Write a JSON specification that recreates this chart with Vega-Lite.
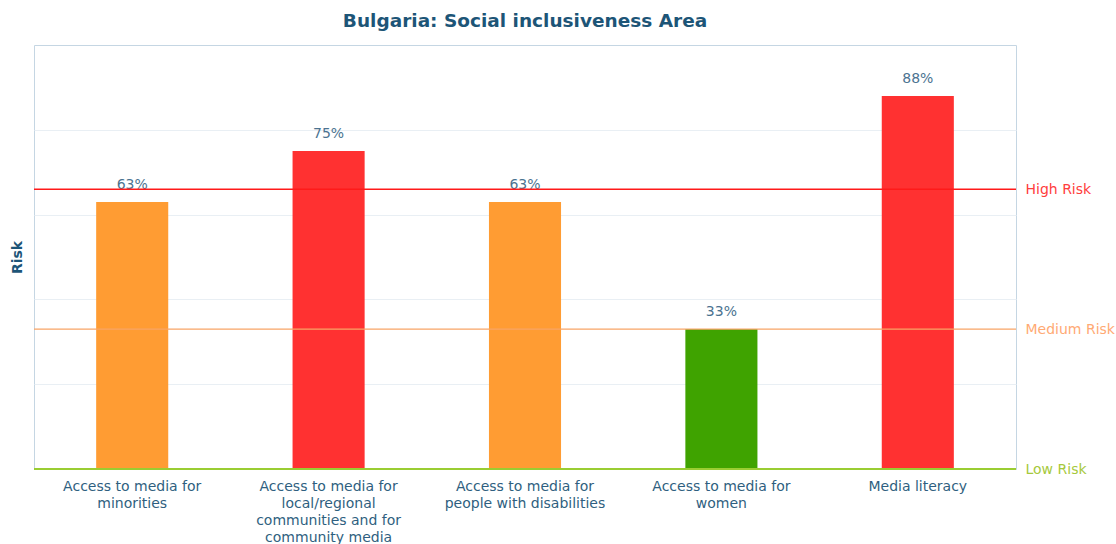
{
  "$schema": "https://vega.github.io/schema/vega-lite/v6.json",
  "autosize": "none",
  "width": 982,
  "height": 424,
  "padding": {"left": 34, "top": 45, "right": 100, "bottom": 75},
  "background": "white",
  "config": {
    "font": "DejaVu Sans",
    "view": {"stroke": "#c5d6e3", "strokeWidth": 1}
  },
  "title": {
    "text": "Bulgaria: Social inclusiveness Area",
    "fontSize": 18.5,
    "fontWeight": "bold",
    "color": "#1d5577",
    "anchor": "middle",
    "offset": 15
  },
  "data": {
    "values": [
      {"indicator": "Access to media for minorities", "risk": 0.63, "level": "Medium"},
      {"indicator": "Access to media for local/regional communities and for community media", "risk": 0.75, "level": "High"},
      {"indicator": "Access to media for people with disabilities", "risk": 0.63, "level": "Medium"},
      {"indicator": "Access to media for women", "risk": 0.33, "level": "Low"},
      {"indicator": "Media literacy", "risk": 0.88, "level": "High"}
    ]
  },
  "layer": [
    {
      "mark": {"type": "bar"},
      "encoding": {
        "x": {
          "field": "indicator",
          "type": "nominal",
          "sort": null,
          "scale": {"paddingInner": 0.633, "paddingOuter": 0.3165},
          "axis": {
            "title": null,
            "labelAngle": 0,
            "ticks": false,
            "domain": false,
            "labelPadding": 10,
            "labelFontSize": 14,
            "labelColor": "#2f5f80",
            "labelLineHeight": 17,
            "labelLimit": 300,
            "labelExpr": "datum.label == 'Access to media for minorities' ? ['Access to media for', 'minorities'] : datum.label == 'Access to media for people with disabilities' ? ['Access to media for', 'people with disabilities'] : datum.label == 'Access to media for women' ? ['Access to media for', 'women'] : datum.label == 'Media literacy' ? 'Media literacy' : ['Access to media for', 'local/regional', 'communities and for', 'community media']"
          }
        },
        "y": {
          "field": "risk",
          "type": "quantitative",
          "scale": {"domain": [0, 1], "nice": false},
          "axis": {
            "title": "Risk",
            "titleFontSize": 14,
            "titleFontWeight": "bold",
            "titleColor": "#1d5577",
            "titlePadding": 10,
            "labels": false,
            "ticks": false,
            "domain": false,
            "grid": true,
            "gridColor": "#e9eff4",
            "values": [0.2, 0.4, 0.6, 0.8]
          }
        },
        "color": {
          "field": "level",
          "type": "nominal",
          "scale": {"domain": ["High", "Medium", "Low"], "range": ["#ff3131", "#ff9c33", "#3fa300"]},
          "legend": null
        }
      }
    },
    {
      "mark": {"type": "text", "baseline": "alphabetic", "dy": -13, "fontSize": 14, "color": "#4b7391"},
      "encoding": {
        "x": {"field": "indicator", "type": "nominal", "sort": null},
        "y": {"field": "risk", "type": "quantitative", "axis": null},
        "text": {"field": "risk", "type": "quantitative", "format": ".0%"}
      }
    },
    {
      "data": {"values": [{"threshold": 0.66}]},
      "mark": {"type": "rule", "color": "#ff1a1a", "strokeWidth": 1.5},
      "encoding": {
        "y": {
          "field": "threshold",
          "type": "quantitative",
          "axis": {
            "orient": "right",
            "title": null,
            "values": [0, 0.33, 0.66],
            "ticks": false,
            "domain": false,
            "grid": false,
            "labelPadding": 9,
            "labelFontSize": 14,
            "labelExpr": "datum.value > 0.5 ? 'High Risk' : datum.value > 0.2 ? 'Medium Risk' : 'Low Risk'",
            "labelColor": {
              "condition": [
                {"test": "datum.value > 0.5", "value": "#ff3d3d"},
                {"test": "datum.value > 0.2", "value": "#ffaa74"}
              ],
              "value": "#a6c93c"
            }
          }
        }
      }
    },
    {
      "data": {"values": [{"threshold": 0.33}]},
      "mark": {"type": "rule", "color": "#f8a466", "strokeWidth": 1.2},
      "encoding": {"y": {"field": "threshold", "type": "quantitative", "axis": null}}
    },
    {
      "data": {"values": [{"threshold": 0}]},
      "mark": {"type": "rule", "color": "#9acd32", "strokeWidth": 2},
      "encoding": {"y": {"field": "threshold", "type": "quantitative", "axis": null}}
    }
  ],
  "resolve": {"axis": {"y": "independent"}}
}
